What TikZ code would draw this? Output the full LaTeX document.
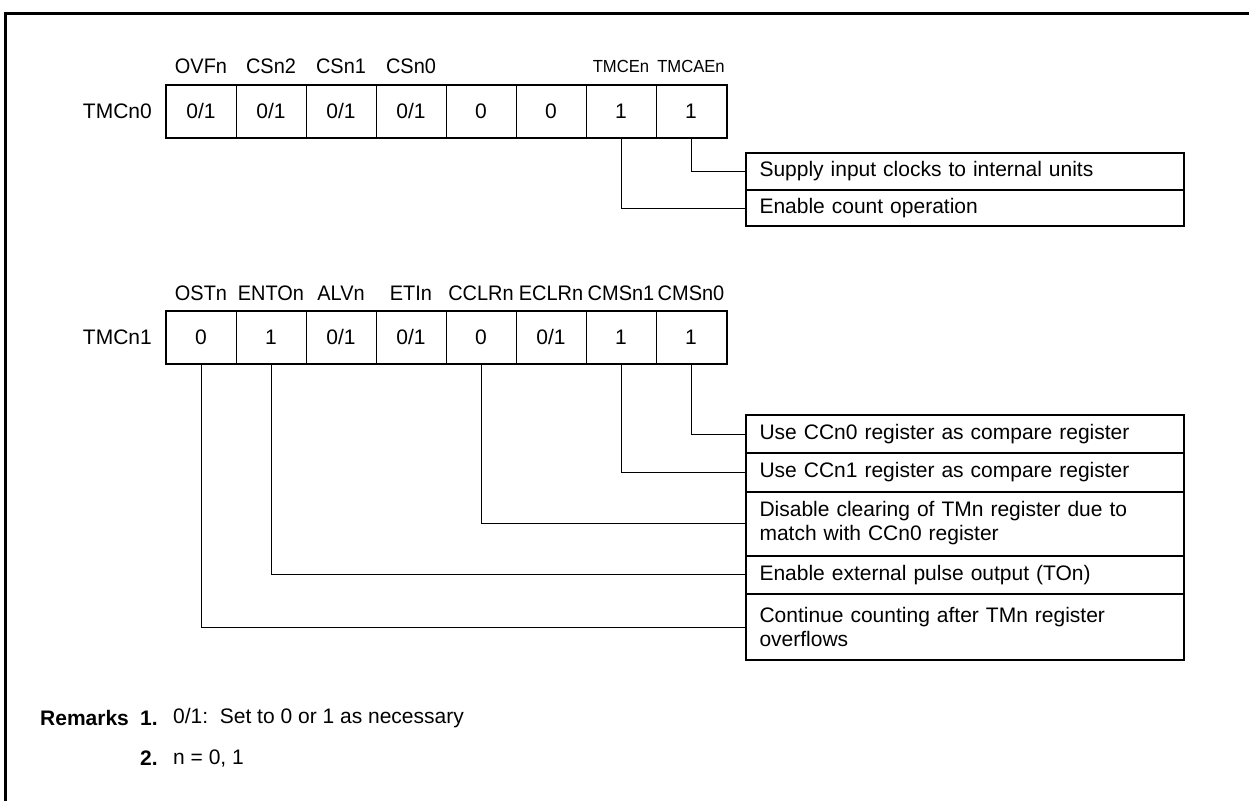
\documentclass[tikz,border=0pt]{standalone}
\usepackage{fontspec}
\setmainfont{Liberation Sans}
\newfontfamily\narrowfont[FakeStretch=0.95]{Liberation Sans}
\usetikzlibrary{positioning}

\newcommand{\regfont}{\fontsize{21}{24}\selectfont}
\newcommand{\bitfont}{\narrowfont\fontsize{21}{24}\selectfont}
\newcommand{\smallbitfont}{\narrowfont\fontsize{17.5}{20}\selectfont}

\tikzset{
  marco/.style={line width=3pt},
  borde/.style={line width=2pt},
  cable/.style={line width=1pt},
  bitcell/.style={draw, line width=1pt, minimum width=70pt, minimum height=52pt,
    inner sep=0pt, font=\regfont},
  bitname/.style={inner sep=0pt, font=\bitfont},
  regname/.style={anchor=east, inner sep=0pt, font=\regfont},
  descrow/.style={draw, line width=1pt, minimum width=437pt, text width=411pt,
    align=left, inner xsep=13pt, inner ysep=0pt, font=\regfont},
}

\begin{document}
\begin{tikzpicture}[x=1pt,y=-1pt]
        \useasboundingbox (0,0) rectangle (1249,801);

        % Marco
        \draw[marco] (5,801) -- (5,13) -- (1249,13);

        % Registro TMCn0
        \node[regname] (r0) at (152,111) {TMCn0};
        \foreach \v [count=\i] in {0{/}1,0{/}1,0{/}1,0{/}1,0,0,1,1}
            \node[bitcell] (a\i) at ({201+70*(\i-1)},111) {\v};
        \draw[borde] (a1.north west) rectangle (a8.south east);
        \foreach \n [count=\i] in {OVFn,CSn2,CSn1,CSn0}
            \node[bitname, yshift=18pt] at (a\i.north) {\n};
        \node[bitname, font=\smallbitfont, yshift=18pt] at (a7.north) {TMCEn};
        \node[bitname, font=\smallbitfont, yshift=18pt] at (a8.north) {TMCAEn};

        % Descripciones TMCn0
        \node[descrow, anchor=north west, minimum height=36pt] (d1) at (746,153)
            {Supply input clocks to internal units};
        \node[descrow, minimum height=35pt, below=0pt of d1] (d2)
            {Enable count operation};
        \draw[borde] (d1.north west) rectangle (d2.south east);

        \draw[cable] (a8.south) |- (d1.west);
        \draw[cable] (a7.south) |- (d2.west);

        % Registro TMCn1
        \node[regname] (r1) at (152,337) {TMCn1};
        \foreach \v [count=\i] in {0,1,0{/}1,0{/}1,0,0{/}1,1,1}
            \node[bitcell] (b\i) at ({201+70*(\i-1)},337) {\v};
        \draw[borde] (b1.north west) rectangle (b8.south east);
        \foreach \n [count=\i] in {OSTn,ENTOn,ALVn,ETIn,CCLRn,ECLRn,CMSn1,CMSn0}
            \node[bitname, yshift=17pt] at (b\i.north) {\n};

        % Descripciones TMCn1
        \node[descrow, anchor=north west, minimum height=37pt] (e1) at (746,415)
            {Use CCn0 register as compare register};
        \node[descrow, minimum height=37.5pt, below=0pt of e1] (e2)
            {Use CCn1 register as compare register};
        \node[descrow, minimum height=63pt, below=0pt of e2] (e3)
            {Disable clearing of TMn register due to\\match with CCn0 register};
        \node[descrow, minimum height=37.5pt, below=0pt of e3] (e4)
            {Enable external pulse output (TOn)};
        \node[descrow, minimum height=65pt, below=0pt of e4] (e5)
            {Continue counting after TMn register\\overflows};
        \draw[borde] (e1.north west) rectangle (e5.south east);

        \draw[cable] (b8.south) |- (e1.west);
        \draw[cable] (b7.south) |- (e2.west);
        \draw[cable] (b5.south) |- (e3.west);
        \draw[cable] (b2.south) |- (e4.west);
        \draw[cable] (b1.south) |- (e5.west);

        % Observaciones
        \node[anchor=west, inner sep=0pt, font=\regfont\bfseries] (rem) at (40,718) {Remarks};
        \node[anchor=west, inner sep=0pt, font=\regfont\bfseries] (rem1) at (140,718) {1.};
        \node[anchor=west, inner sep=0pt, font=\regfont] (txt1) at (173,718) {0/1:\ \ Set to 0 or 1 as necessary};
        \node[anchor=west, inner sep=0pt, font=\regfont\bfseries] (rem2) at (140,758) {2.};
        \node[anchor=west, inner sep=0pt, font=\regfont] (txt2) at (173,758) {n = 0, 1};
\end{tikzpicture}
\end{document}
